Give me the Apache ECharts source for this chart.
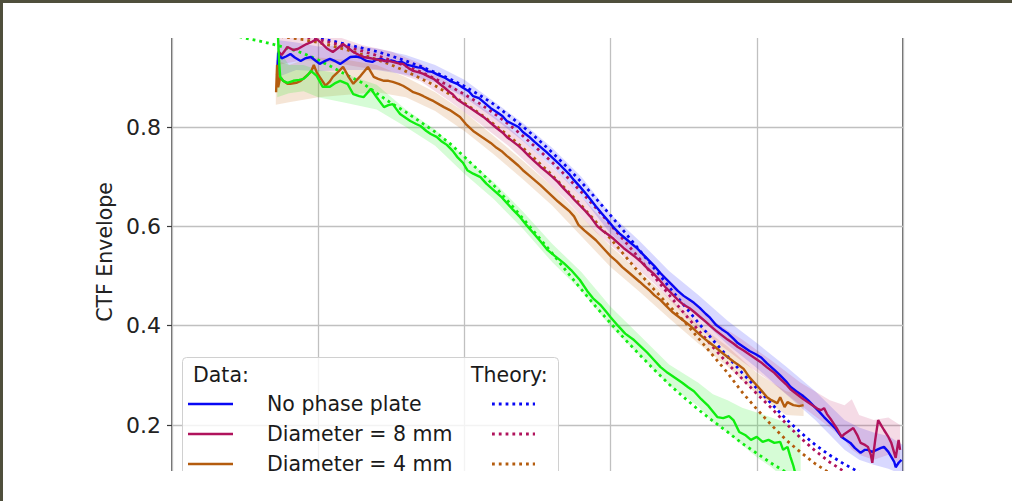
<!DOCTYPE html>
<html>
<head>
<meta charset="utf-8">
<script src="https://cdn.jsdelivr.net/npm/echarts@6/dist/echarts.min.js"></script>
<style>
  html, body { margin: 0; padding: 0; background: #ffffff; overflow: hidden; }
  #chart { width: 1012px; height: 540px; }
</style>
</head>
<body>
<div id="chart"></div>
<script>
// ---- measured CTF envelopes (x = spatial frequency, y = envelope) ----
const blueData = [[0.0719,0.905],[0.0726,0.950],[0.0750,0.938],[0.0780,0.942],[0.0810,0.947],[0.0840,0.940],[0.0880,0.933],[0.0910,0.938],[0.0950,0.941],[0.0980,0.934],[0.1010,0.927],[0.1040,0.932],[0.1080,0.937],[0.1120,0.932],[0.1150,0.927],[0.1190,0.935],[0.1220,0.941],[0.1260,0.942],[0.1290,0.940],[0.1330,0.933],[0.1370,0.931],[0.1400,0.936],[0.1430,0.937],[0.1470,0.932],[0.1500,0.934],[0.1540,0.930],[0.1570,0.931],[0.1610,0.925],[0.1640,0.923],[0.1680,0.920],[0.1710,0.919],[0.1750,0.912],[0.1780,0.911],[0.1820,0.905],[0.1860,0.900],[0.1900,0.893],[0.1950,0.887],[0.1990,0.879],[0.2030,0.872],[0.2060,0.862],[0.2100,0.858],[0.2140,0.848],[0.2180,0.838],[0.2220,0.830],[0.2260,0.822],[0.2290,0.812],[0.2330,0.806],[0.2370,0.800],[0.2400,0.790],[0.2440,0.781],[0.2480,0.770],[0.2520,0.760],[0.2560,0.750],[0.2600,0.739],[0.2640,0.728],[0.2680,0.716],[0.2720,0.704],[0.2750,0.693],[0.2790,0.680],[0.2830,0.666],[0.2860,0.655],[0.2900,0.640],[0.2940,0.626],[0.2980,0.612],[0.3020,0.598],[0.3060,0.586],[0.3100,0.576],[0.3140,0.566],[0.3180,0.556],[0.3220,0.544],[0.3260,0.532],[0.3300,0.520],[0.3340,0.506],[0.3380,0.494],[0.3420,0.482],[0.3460,0.470],[0.3500,0.460],[0.3540,0.452],[0.3570,0.446],[0.3610,0.436],[0.3650,0.424],[0.3680,0.416],[0.3720,0.402],[0.3760,0.393],[0.3800,0.385],[0.3840,0.374],[0.3870,0.365],[0.3910,0.357],[0.3950,0.349],[0.3990,0.343],[0.4030,0.336],[0.4070,0.324],[0.4120,0.311],[0.4160,0.300],[0.4200,0.288],[0.4230,0.277],[0.4270,0.268],[0.4310,0.260],[0.4350,0.250],[0.4390,0.238],[0.4430,0.226],[0.4460,0.216],[0.4500,0.204],[0.4540,0.192],[0.4580,0.176],[0.4610,0.170],[0.4640,0.164],[0.4670,0.154],[0.4710,0.144],[0.4740,0.150],[0.4760,0.150],[0.4790,0.146],[0.4820,0.150],[0.4850,0.154],[0.4870,0.156],[0.4900,0.146],[0.4920,0.136],[0.4940,0.126],[0.4950,0.115],[0.4970,0.124],[0.4990,0.130]];

const crimsonData = [[0.0726,0.953],[0.0750,0.945],[0.0790,0.961],[0.0830,0.955],[0.0860,0.957],[0.0890,0.962],[0.0920,0.967],[0.0960,0.972],[0.0990,0.977],[0.1030,0.967],[0.1060,0.958],[0.1100,0.951],[0.1140,0.960],[0.1170,0.967],[0.1210,0.958],[0.1240,0.951],[0.1280,0.945],[0.1310,0.941],[0.1350,0.939],[0.1380,0.937],[0.1420,0.935],[0.1450,0.933],[0.1480,0.933],[0.1510,0.931],[0.1550,0.928],[0.1580,0.927],[0.1620,0.918],[0.1650,0.913],[0.1690,0.910],[0.1720,0.907],[0.1760,0.901],[0.1790,0.897],[0.1830,0.887],[0.1860,0.880],[0.1900,0.870],[0.1920,0.866],[0.1950,0.856],[0.1990,0.848],[0.2030,0.840],[0.2060,0.834],[0.2100,0.826],[0.2140,0.818],[0.2180,0.808],[0.2220,0.798],[0.2260,0.789],[0.2290,0.780],[0.2330,0.771],[0.2370,0.762],[0.2400,0.754],[0.2440,0.742],[0.2480,0.731],[0.2520,0.720],[0.2560,0.710],[0.2600,0.700],[0.2640,0.689],[0.2680,0.676],[0.2720,0.664],[0.2750,0.654],[0.2790,0.642],[0.2830,0.630],[0.2860,0.620],[0.2910,0.600],[0.2950,0.590],[0.2980,0.584],[0.3020,0.575],[0.3060,0.564],[0.3090,0.556],[0.3130,0.547],[0.3170,0.538],[0.3210,0.528],[0.3250,0.516],[0.3300,0.503],[0.3340,0.490],[0.3380,0.476],[0.3420,0.464],[0.3460,0.452],[0.3500,0.442],[0.3540,0.435],[0.3570,0.428],[0.3610,0.418],[0.3650,0.408],[0.3680,0.400],[0.3720,0.390],[0.3760,0.381],[0.3800,0.372],[0.3840,0.364],[0.3870,0.357],[0.3910,0.350],[0.3950,0.342],[0.3990,0.334],[0.4030,0.326],[0.4070,0.316],[0.4120,0.305],[0.4160,0.293],[0.4200,0.282],[0.4230,0.272],[0.4270,0.263],[0.4310,0.254],[0.4350,0.246],[0.4390,0.238],[0.4420,0.232],[0.4440,0.230],[0.4460,0.234],[0.4480,0.222],[0.4510,0.210],[0.4550,0.192],[0.4580,0.176],[0.4600,0.182],[0.4620,0.186],[0.4660,0.194],[0.4690,0.178],[0.4710,0.164],[0.4740,0.160],[0.4760,0.156],[0.4780,0.140],[0.4790,0.124],[0.4810,0.170],[0.4830,0.210],[0.4850,0.200],[0.4870,0.190],[0.4900,0.176],[0.4920,0.164],[0.4950,0.134],[0.4970,0.170],[0.4980,0.150]];

const brownData = [[0.0712,0.870],[0.0719,0.925],[0.0726,0.880],[0.0740,0.900],[0.0760,0.893],[0.0790,0.887],[0.0810,0.887],[0.0850,0.889],[0.0880,0.893],[0.0920,0.903],[0.0950,0.911],[0.0970,0.925],[0.0990,0.910],[0.1010,0.901],[0.1050,0.883],[0.1080,0.892],[0.1100,0.901],[0.1140,0.912],[0.1170,0.921],[0.1210,0.900],[0.1240,0.887],[0.1290,0.903],[0.1340,0.921],[0.1380,0.901],[0.1410,0.897],[0.1450,0.893],[0.1480,0.893],[0.1510,0.891],[0.1550,0.887],[0.1580,0.883],[0.1620,0.876],[0.1650,0.870],[0.1690,0.866],[0.1720,0.862],[0.1760,0.856],[0.1790,0.852],[0.1830,0.845],[0.1860,0.840],[0.1900,0.834],[0.1930,0.828],[0.1970,0.820],[0.2010,0.806],[0.2060,0.792],[0.2100,0.784],[0.2140,0.776],[0.2180,0.768],[0.2220,0.758],[0.2260,0.750],[0.2290,0.742],[0.2330,0.732],[0.2370,0.722],[0.2400,0.713],[0.2440,0.703],[0.2480,0.693],[0.2520,0.683],[0.2560,0.672],[0.2600,0.661],[0.2640,0.650],[0.2680,0.640],[0.2720,0.630],[0.2750,0.620],[0.2780,0.603],[0.2820,0.592],[0.2860,0.582],[0.2900,0.572],[0.2950,0.556],[0.3000,0.540],[0.3040,0.530],[0.3080,0.518],[0.3120,0.508],[0.3160,0.498],[0.3200,0.488],[0.3230,0.480],[0.3270,0.470],[0.3300,0.461],[0.3340,0.452],[0.3380,0.440],[0.3420,0.428],[0.3460,0.419],[0.3500,0.410],[0.3540,0.401],[0.3570,0.393],[0.3610,0.382],[0.3650,0.372],[0.3680,0.365],[0.3720,0.356],[0.3760,0.346],[0.3800,0.337],[0.3840,0.328],[0.3870,0.322],[0.3910,0.313],[0.3950,0.296],[0.3990,0.283],[0.4030,0.270],[0.4070,0.256],[0.4100,0.250],[0.4140,0.244],[0.4160,0.256],[0.4190,0.236],[0.4210,0.246],[0.4250,0.240],[0.4290,0.238],[0.4320,0.240]];

const greenData = [[0.0719,1.020],[0.0733,0.930],[0.0740,0.901],[0.0760,0.893],[0.0790,0.889],[0.0830,0.893],[0.0870,0.895],[0.0900,0.897],[0.0930,0.905],[0.0950,0.913],[0.0990,0.903],[0.1030,0.881],[0.1080,0.881],[0.1120,0.889],[0.1150,0.893],[0.1200,0.887],[0.1240,0.866],[0.1280,0.862],[0.1310,0.860],[0.1340,0.870],[0.1360,0.877],[0.1400,0.860],[0.1450,0.840],[0.1480,0.844],[0.1510,0.846],[0.1540,0.834],[0.1560,0.826],[0.1600,0.818],[0.1630,0.812],[0.1670,0.806],[0.1700,0.802],[0.1740,0.792],[0.1770,0.786],[0.1810,0.780],[0.1840,0.772],[0.1880,0.764],[0.1920,0.752],[0.1950,0.740],[0.1990,0.728],[0.2020,0.713],[0.2060,0.706],[0.2110,0.699],[0.2150,0.686],[0.2200,0.673],[0.2250,0.660],[0.2290,0.647],[0.2330,0.634],[0.2380,0.619],[0.2420,0.604],[0.2470,0.587],[0.2520,0.570],[0.2570,0.552],[0.2620,0.540],[0.2680,0.526],[0.2730,0.512],[0.2790,0.492],[0.2840,0.470],[0.2880,0.455],[0.2930,0.442],[0.2970,0.428],[0.3000,0.417],[0.3050,0.400],[0.3100,0.384],[0.3160,0.371],[0.3200,0.360],[0.3250,0.346],[0.3300,0.330],[0.3340,0.317],[0.3390,0.305],[0.3440,0.295],[0.3490,0.285],[0.3530,0.276],[0.3570,0.268],[0.3620,0.252],[0.3670,0.238],[0.3730,0.216],[0.3770,0.214],[0.3810,0.218],[0.3840,0.210],[0.3880,0.186],[0.3920,0.180],[0.3960,0.170],[0.4000,0.176],[0.4040,0.166],[0.4080,0.170],[0.4120,0.164],[0.4160,0.166],[0.4180,0.150],[0.4210,0.156],[0.4230,0.136],[0.4250,0.118],[0.4270,0.095],[0.4290,0.080]];

// ---- spread of each measurement: [x, lower, upper] ----
const blueBand = [[0.072,0.900,0.975],[0.085,0.915,0.970],[0.100,0.912,0.962],[0.120,0.915,0.965],[0.140,0.915,0.958],[0.160,0.905,0.945],[0.180,0.890,0.925],[0.200,0.860,0.895],[0.220,0.818,0.852],[0.240,0.772,0.808],[0.260,0.720,0.758],[0.280,0.660,0.700],[0.300,0.585,0.625],[0.320,0.530,0.570],[0.340,0.468,0.510],[0.360,0.418,0.462],[0.380,0.362,0.410],[0.400,0.315,0.365],[0.420,0.262,0.318],[0.440,0.210,0.268],[0.460,0.150,0.210],[0.470,0.130,0.195],[0.480,0.120,0.185],[0.490,0.112,0.178],[0.500,0.100,0.160]];
const crimsonBand = [[0.072,0.925,0.985],[0.090,0.935,0.990],[0.110,0.930,0.985],[0.130,0.920,0.965],[0.150,0.912,0.952],[0.170,0.892,0.928],[0.190,0.852,0.888],[0.210,0.808,0.845],[0.230,0.762,0.800],[0.250,0.708,0.746],[0.270,0.652,0.692],[0.290,0.588,0.628],[0.310,0.536,0.574],[0.330,0.484,0.522],[0.350,0.422,0.462],[0.370,0.372,0.410],[0.390,0.328,0.372],[0.410,0.286,0.330],[0.430,0.240,0.285],[0.450,0.195,0.250],[0.460,0.170,0.240],[0.465,0.150,0.252],[0.470,0.140,0.220],[0.480,0.130,0.210],[0.490,0.140,0.215],[0.498,0.120,0.200]];
const brownBand = [[0.071,0.845,0.935],[0.080,0.850,0.925],[0.090,0.855,0.935],[0.100,0.860,0.940],[0.120,0.865,0.935],[0.140,0.870,0.925],[0.160,0.860,0.900],[0.180,0.832,0.870],[0.200,0.792,0.830],[0.220,0.745,0.782],[0.240,0.695,0.732],[0.260,0.642,0.680],[0.280,0.580,0.620],[0.300,0.518,0.560],[0.320,0.468,0.508],[0.340,0.415,0.455],[0.360,0.364,0.402],[0.380,0.318,0.358],[0.400,0.262,0.305],[0.420,0.220,0.268],[0.432,0.218,0.262]];
const greenBand = [[0.072,0.860,0.960],[0.080,0.868,0.925],[0.090,0.872,0.925],[0.100,0.860,0.915],[0.120,0.848,0.905],[0.140,0.835,0.885],[0.160,0.800,0.835],[0.180,0.762,0.795],[0.200,0.706,0.740],[0.220,0.655,0.690],[0.240,0.595,0.630],[0.260,0.528,0.565],[0.280,0.470,0.508],[0.300,0.398,0.438],[0.320,0.340,0.380],[0.340,0.280,0.322],[0.360,0.238,0.285],[0.370,0.205,0.262],[0.380,0.185,0.250],[0.390,0.160,0.235],[0.400,0.135,0.225],[0.410,0.115,0.215],[0.420,0.090,0.205],[0.430,0.050,0.180]];

// ---- theoretical envelopes ----
const blueTheory = [[0.00,1.000],[0.05,0.995],[0.08,0.989],[0.09,0.985],[0.10,0.979],[0.11,0.973],[0.12,0.966],[0.13,0.959],[0.14,0.952],[0.15,0.943],[0.16,0.933],[0.17,0.922],[0.18,0.910],[0.19,0.897],[0.20,0.882],[0.21,0.865],[0.22,0.846],[0.23,0.824],[0.24,0.801],[0.25,0.776],[0.26,0.749],[0.27,0.720],[0.28,0.689],[0.29,0.656],[0.30,0.622],[0.31,0.587],[0.32,0.551],[0.33,0.515],[0.34,0.478],[0.35,0.442],[0.36,0.406],[0.37,0.371],[0.38,0.338],[0.39,0.305],[0.40,0.274],[0.41,0.243],[0.42,0.212],[0.43,0.185],[0.44,0.160],[0.45,0.139],[0.46,0.121],[0.47,0.105],[0.48,0.091]];
const crimsonTheory = [[0.00,1.000],[0.05,0.994],[0.08,0.986],[0.09,0.982],[0.10,0.976],[0.11,0.969],[0.12,0.961],[0.13,0.953],[0.14,0.944],[0.15,0.934],[0.16,0.923],[0.17,0.911],[0.18,0.897],[0.19,0.882],[0.20,0.866],[0.21,0.848],[0.22,0.828],[0.23,0.806],[0.24,0.782],[0.25,0.756],[0.26,0.729],[0.27,0.700],[0.28,0.669],[0.29,0.637],[0.30,0.603],[0.31,0.569],[0.32,0.534],[0.33,0.498],[0.34,0.462],[0.35,0.426],[0.36,0.391],[0.37,0.357],[0.38,0.324],[0.39,0.293],[0.40,0.263],[0.41,0.234],[0.42,0.203],[0.43,0.174],[0.44,0.148],[0.45,0.125],[0.46,0.106],[0.47,0.090]];
const brownTheory = [[0.00,1.000],[0.05,0.992],[0.08,0.980],[0.09,0.976],[0.10,0.970],[0.11,0.963],[0.12,0.955],[0.13,0.946],[0.14,0.936],[0.15,0.925],[0.16,0.912],[0.17,0.898],[0.18,0.883],[0.19,0.866],[0.20,0.848],[0.21,0.828],[0.22,0.806],[0.23,0.783],[0.24,0.758],[0.25,0.731],[0.26,0.703],[0.27,0.673],[0.28,0.642],[0.29,0.609],[0.30,0.575],[0.31,0.540],[0.32,0.505],[0.33,0.472],[0.34,0.440],[0.35,0.410],[0.36,0.375],[0.37,0.340],[0.38,0.305],[0.39,0.266],[0.40,0.232],[0.41,0.200],[0.42,0.170],[0.43,0.145],[0.44,0.122],[0.45,0.103],[0.46,0.088]];
const greenTheory = [[0.00,1.000],[0.03,0.990],[0.04,0.986],[0.05,0.979],[0.06,0.973],[0.07,0.966],[0.08,0.958],[0.09,0.948],[0.10,0.935],[0.11,0.920],[0.12,0.904],[0.13,0.889],[0.14,0.868],[0.15,0.848],[0.16,0.830],[0.17,0.810],[0.18,0.790],[0.19,0.767],[0.20,0.740],[0.21,0.712],[0.22,0.683],[0.23,0.650],[0.24,0.616],[0.25,0.581],[0.26,0.546],[0.27,0.509],[0.28,0.473],[0.29,0.438],[0.30,0.405],[0.31,0.372],[0.32,0.341],[0.33,0.311],[0.34,0.282],[0.35,0.256],[0.36,0.231],[0.37,0.208],[0.38,0.186],[0.39,0.163],[0.40,0.143],[0.41,0.123],[0.42,0.105],[0.43,0.090]];

// ---- legend text ----
const legendDataTitle = 'Data:';
const legendTheoryTitle = 'Theory:';
const legendLabels = ['No phase plate', 'Diameter = 8 mm', 'Diameter = 4 mm'];
const yAxisTitle = 'CTF Envelope';

const COLORS = { blue: '#0808f4', crimson: '#b0135c', brown: '#b45c0e', green: '#10ee10' };
const BAND_COLORS = {
  blue: 'rgba(40,40,255,0.18)',
  crimson: 'rgba(190,30,100,0.16)',
  brown: 'rgba(200,110,30,0.18)',
  green: 'rgba(30,240,30,0.18)'
};
const FONT = '"DejaVu Sans", "Liberation Sans", sans-serif';
const LEGEND_FONT = '20.5px ' + FONT;

const groups = [
  { key: 'blue', data: blueData, band: blueBand, theory: blueTheory },
  { key: 'crimson', data: crimsonData, band: crimsonBand, theory: crimsonTheory },
  { key: 'brown', data: brownData, band: brownBand, theory: brownTheory },
  { key: 'green', data: greenData, band: greenBand, theory: greenTheory }
];

const series = [];
// shaded spreads: one polygon per curve, upper edge forward and lower edge back
groups.forEach(g => {
  series.push({
    type: 'custom', silent: true, z: 1,
    data: g.band,
    encode: { x: 0, y: [1, 2] },
    renderItem: (params, api) => {
      if (params.dataIndex !== 0) return null;
      const upper = g.band.map(p => api.coord([p[0], p[2]]));
      const lower = g.band.slice().reverse().map(p => api.coord([p[0], p[1]]));
      return {
        type: 'polygon',
        shape: { points: upper.concat(lower) },
        style: { fill: BAND_COLORS[g.key], stroke: null }
      };
    }
  });
});
// theory curves (dotted)
groups.forEach(g => {
  series.push({
    type: 'line', symbol: 'none', silent: true, data: g.theory,
    lineStyle: { color: COLORS[g.key], width: 2.8, type: [2.8, 4.0] }, z: 3
  });
});
// measured curves
groups.forEach(g => {
  series.push({
    type: 'line', symbol: 'none', silent: true, data: g.data,
    lineStyle: { color: COLORS[g.key], width: 2.4 }, z: 4
  });
});

// legend box drawn as graphic elements
const legendEls = [
  { type: 'rect', z: 30, shape: { x: 182.5, y: 357.5, width: 376, height: 160, r: 4 },
    style: { fill: 'rgba(255,255,255,0.8)', stroke: '#d0d0d0', lineWidth: 1 } },
  { type: 'text', z: 31, style: { text: legendDataTitle, x: 193, y: 375, font: LEGEND_FONT, fill: '#1a1a1a', align: 'left', verticalAlign: 'middle' } },
  { type: 'text', z: 31, style: { text: legendTheoryTitle, x: 471, y: 375, font: LEGEND_FONT, fill: '#1a1a1a', align: 'left', verticalAlign: 'middle' } }
];
['blue', 'crimson', 'brown'].forEach((k, i) => {
  const y = 404 + i * 30;
  legendEls.push({ type: 'line', z: 31, shape: { x1: 188, y1: y, x2: 233, y2: y },
    style: { stroke: COLORS[k], lineWidth: 2.6 } });
  legendEls.push({ type: 'text', z: 31, style: { text: legendLabels[i], x: 267, y: y, font: LEGEND_FONT, fill: '#1a1a1a', align: 'left', verticalAlign: 'middle' } });
  legendEls.push({ type: 'line', z: 31, shape: { x1: 492, y1: y, x2: 535, y2: y },
    style: { stroke: COLORS[k], lineWidth: 2.8, lineDash: [2.8, 4.0] } });
});

const option = {
  animation: false,
  backgroundColor: '#ffffff',
  grid: {
    left: 172, top: 27.66, width: 731, height: 496.7,
    show: true, borderColor: '#3a3a3a', borderWidth: 1.5, backgroundColor: 'transparent'
  },
  xAxis: {
    type: 'value', min: 0, max: 0.5, interval: 0.1,
    axisLine: { show: false }, axisTick: { show: false }, axisLabel: { show: false },
    splitLine: { show: true, lineStyle: { color: '#c0c0c0', width: 1.3 } }
  },
  yAxis: {
    type: 'value', min: 0, max: 1, interval: 0.2,
    axisLine: { show: false },
    axisTick: { show: true, length: 5, lineStyle: { color: '#3a3a3a', width: 1.2 } },
    axisLabel: {
      margin: 11, color: '#222222', fontFamily: FONT, fontSize: 22,
      formatter: v => (v > 0.05 && v < 0.95) ? v.toFixed(1) : ''
    },
    splitLine: { show: true, lineStyle: { color: '#c0c0c0', width: 1.3 } }
  },
  graphic: {
    elements: [
      ...legendEls,
      { type: 'text', z: 31, x: 105, y: 252, rotation: Math.PI / 2,
        style: { text: yAxisTitle, x: 0, y: 0, font: LEGEND_FONT, fill: '#222222', align: 'center', verticalAlign: 'middle' } },
      // page margins outside the plotted window
      { type: 'rect', z: 40, shape: { x: 3, y: 3, width: 1009, height: 35 }, style: { fill: '#ffffff' } },
      { type: 'rect', z: 40, shape: { x: 3, y: 471, width: 1009, height: 69 }, style: { fill: '#ffffff' } },
      // dark frame along the top and left edges
      { type: 'rect', z: 41, shape: { x: 0, y: 0, width: 1012, height: 3 }, style: { fill: '#4f4f3c' } },
      { type: 'rect', z: 41, shape: { x: 0, y: 0, width: 3, height: 540 }, style: { fill: '#4f4f3c' } }
    ]
  },
  series: series
};

const chart = echarts.init(document.getElementById('chart'), null, { renderer: 'svg' });
chart.setOption(option);
</script>
</body>
</html>
